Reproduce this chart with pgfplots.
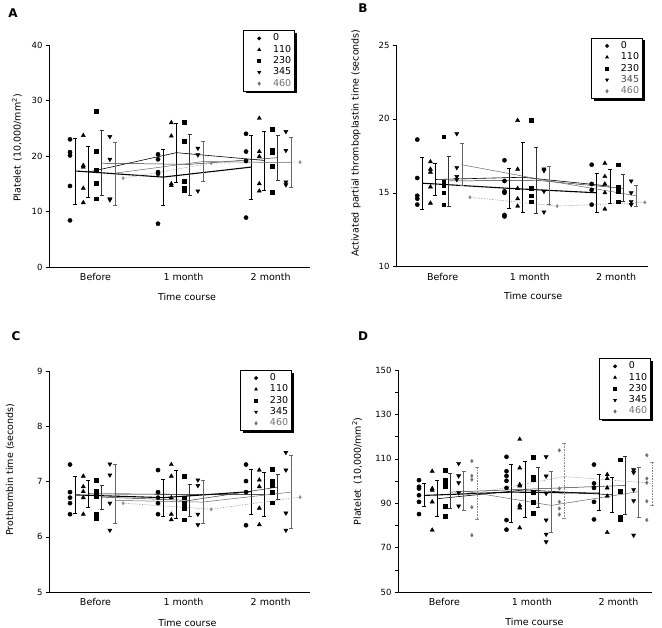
\documentclass[border=0pt]{standalone}
\usepackage{fontspec}
\setmainfont{DejaVu Sans}
\usepackage{pgfplots}
\pgfplotsset{compat=1.18}
\usetikzlibrary{shadows}
\pgfkeys{/pgfplots/table/errt/.style={x=x,y=y,y error plus expr=\thisrow{hi}-\thisrow{y},y error minus expr=\thisrow{y}-\thisrow{lo}}}
\pgfplotsset{
  panel/.style={
    scale only axis, axis lines=left, axis line style={-, line width=0.6pt},
    enlargelimits=false, clip=false,
    xtick={0.29,1.29,2.28}, xticklabels={Before,1 month,2 month},
    xtick style={draw=none}, tick align=outside,
    ytick style={line width=0.5pt, black}, major tick length=3bp, minor tick length=3bp,
    yticklabel style={font=\fontsize{8.5bp}{10bp}\selectfont},
    xticklabel style={font=\fontsize{9.5bp}{11bp}\selectfont},
    /pgf/number format/assume math mode=true,
    label style={font=\fontsize{9.5bp}{11bp}\selectfont},
    xlabel={Time course},
    xlabel style={anchor=center}, ylabel style={anchor=center},
    legend cell align=left,
    legend style={font=\fontsize{9.5bp}{11bp}\selectfont, draw=black, line width=0.8pt,
      anchor=north east, inner xsep=1bp, inner ysep=2bp, row sep=0pt,
      nodes={text height=7bp, text depth=2bp, inner ysep=1.15bp, inner xsep=2.5bp},
      drop shadow={shadow xshift=2.2bp, shadow yshift=-2.2bp, fill=black, opacity=1}},
  },
  lgm/.style={legend image code/.code={\path (0bp,0bp); \path (25bp,0bp);
      \draw[##1, mark size=1.5bp] plot coordinates {(14bp,0bp)};}},
  s0/.style={black, mark=*, mark size=2.1bp, lgm},
  s1/.style={black, mark=triangle*, mark size=2.4bp, lgm},
  s2/.style={black, mark=square*, mark size=1.9bp, lgm},
  s3/.style={black, mark=triangle*, mark size=2.4bp, mark options={rotate=180}, lgm},
  s4/.style={black!55, mark=diamond*, mark size=1.8bp, lgm},
  eb/.style={/pgfplots/error bars/y dir=both, /pgfplots/error bars/y explicit,
    /pgfplots/error bars/error mark options={rotate=90, mark size=2bp}},
  l0/.style={black, line width=1.1pt, mark=none, forget plot, eb},
  l1/.style={black, line width=0.6pt, mark=none, forget plot, eb},
  l2/.style={black!80, line width=0.5pt, mark=none, forget plot, eb},
  l3/.style={black!60, line width=0.5pt, mark=none, forget plot, eb},
  l4/.style={black!45, line width=0.6pt, densely dotted, mark=none, forget plot, eb},
  l4m/.style={black!45, line width=0.6pt, densely dotted, forget plot, mark=diamond*, mark size=1.5bp, mark options={solid}},
}
\begin{document}
\begin{tikzpicture}
\path[use as bounding box] (0,0) rectangle (662bp,628bp);
\node[font=\bfseries\fontsize{12bp}{12bp}\selectfont] at (13bp,615bp) {A};
\node[font=\bfseries\fontsize{12bp}{12bp}\selectfont] at (363bp,620bp) {B};
\node[font=\bfseries\fontsize{12bp}{12bp}\selectfont] at (16bp,292bp) {C};
\node[font=\bfseries\fontsize{12bp}{12bp}\selectfont] at (363bp,292bp) {D};

% ---------------- A ----------------
\begin{axis}[panel, at={(49bp,361bp)}, anchor=south west, width=261bp, height=222bp,
  xmin=-0.2386, xmax=2.727, ymin=0, ymax=40, ytick={0,10,...,40},
  ylabel={Platelet\enspace(10,000/mm\textsuperscript{2})},
  ylabel style={at={(axis description cs:-0.123,0.536)}},
  xlabel style={at={(axis description cs:0.529,-0.135)}},
  legend style={at={(0.943,1.066)}}]
\addplot[only marks, s0] coordinates {(0,23.0)(0,20.7)(0,20.1)(0,14.6)(0,8.4)(1,20.3)(1,19.4)(1,17.1)(1,16.8)(1,7.8)(2,24.0)(2,20.8)(2,19.1)(2,8.9)};
\addplot[only marks, s1] coordinates {(0.151,23.7)(0.151,18.3)(0.151,18.0)(0.151,14.2)(0.151,11.6)(1.151,26.0)(1.151,23.6)(1.151,15.0)(1.151,14.7)(2.151,26.8)(2.151,20.8)(2.151,19.9)(2.151,15.0)(2.151,13.7)};
\addplot[only marks, s2] coordinates {(0.302,28.1)(0.302,20.9)(0.302,17.4)(0.302,15.1)(0.302,12.3)(1.302,26.1)(1.302,22.6)(1.302,15.5)(1.302,14.2)(1.302,13.9)(2.302,24.9)(2.302,21.1)(2.302,20.6)(2.302,18.1)(2.302,13.5)};
\addplot[only marks, s3] coordinates {(0.453,23.5)(0.453,19.4)(0.453,12.3)(0.453,12.1)(1.453,21.4)(1.453,20.2)(1.453,13.7)(2.453,24.4)(2.453,21.0)(2.453,15.3)(2.453,14.8)};
\addlegendimage{only marks, s4}
\addplot[l0] table[errt] {
x y lo hi
0.057 17.3 11.3 23.2
1.057 16.2 11.2 21.2
2.057 18.0 12.2 23.7
};
\addplot[l1] table[errt] {
x y lo hi
0.208 17.1 12.5 21.7
1.208 20.6 15.3 25.9
2.208 19.2 13.9 24.4
};
\addplot[l2] table[errt] {
x y lo hi
0.359 18.7 13.0 24.7
1.359 18.5 13.0 23.9
2.359 19.7 15.6 23.8
};
\addplot[l3] table[errt] {
x y lo hi
0.510 16.9 11.2 22.5
1.510 19.0 15.4 22.6
2.510 18.8 14.3 23.4
};
\addplot[l4m] coordinates {(0.604,16.0)(1.604,18.7)(2.614,18.9)};
\legend{0,110,230,345,{\color{black!55}460}}
\end{axis}

% ---------------- B ----------------
\begin{axis}[panel, at={(396bp,361.3bp)}, anchor=south west, width=252bp, height=221.7bp,
  xmin=-0.244, xmax=2.646, ymin=10, ymax=25, ytick={10,15,20,25},
  ylabel={Activated partial thromboplastin time (seconds)},
  ylabel style={at={(axis description cs:-0.159,0.557)}},
  xlabel style={at={(axis description cs:0.544,-0.132)}},
  legend style={at={(0.98,1.032)}}]
\addplot[only marks, s0] coordinates {(0,18.6)(0,16.0)(0,14.8)(0,14.6)(0,14.2)(1,17.2)(1,15.8)(1,15.1)(1,15.0)(1,13.5)(1,13.4)(2,16.9)(2,15.6)(2,15.2)(2,14.2)};
\addplot[only marks, s1] coordinates {(0.151,17.1)(0.151,16.6)(0.151,16.4)(0.151,15.4)(0.151,14.3)(1.151,19.9)(1.151,16.6)(1.151,15.3)(1.151,14.6)(1.151,14.1)(2.151,17.0)(2.151,16.1)(2.151,15.6)(2.151,15.0)(2.151,13.9)};
\addplot[only marks, s2] coordinates {(0.302,18.8)(0.302,15.7)(0.302,15.5)(0.302,15.0)(0.302,14.2)(1.302,19.9)(1.302,15.3)(1.302,14.8)(1.302,14.4)(2.302,16.9)(2.302,15.4)(2.302,15.3)(2.302,15.1)(2.302,14.4)};
\addplot[only marks, s3] coordinates {(0.453,19.0)(0.453,16.7)(0.453,16.1)(0.453,15.9)(1.453,16.6)(1.453,16.5)(1.453,15.1)(1.453,13.7)(2.453,15.8)(2.453,15.0)(2.453,14.4)(2.453,14.2)};
\addlegendimage{only marks, s4}
\addplot[l0] table[errt] {
x y lo hi
0.057 15.65 13.9 17.4
1.057 15.3 13.95 16.65
2.057 15.0 13.7 16.3
};
\addplot[l1] table[errt] {
x y lo hi
0.208 15.9 14.85 17.0
1.208 16.05 13.7 18.4
2.208 15.45 14.3 16.6
};
\addplot[l2] table[errt] {
x y lo hi
0.359 15.8 14.1 17.5
1.359 15.85 13.6 18.1
2.359 15.3 14.4 16.25
};
\addplot[l3] table[errt] {
x y lo hi
0.510 16.9 15.5 18.35
1.510 15.8 14.2 16.8
2.510 14.8 14.1 15.5
};
\addplot[l4m] coordinates {(0.604,14.7)(1.604,14.1)(2.61,14.35)};
\legend{0,110,230,{\color{black!70}345},{\color{black!55}460}}
\end{axis}

% ---------------- C ----------------
\begin{axis}[panel, at={(49bp,36bp)}, anchor=south west, width=261bp, height=220.7bp,
  xmin=-0.2386, xmax=2.727, ymin=5, ymax=9, ytick={5,6,7,8,9},
  ylabel={Prothrombin time (seconds)},
  ylabel style={at={(axis description cs:-0.149,0.554)}},
  xlabel style={at={(axis description cs:0.53,-0.14)}},
  legend style={at={(0.931,1.006)}}]
\addplot[only marks, s0] coordinates {(0,7.31)(0,6.81)(0,6.71)(0,6.61)(0,6.41)(1,7.21)(1,6.81)(1,6.71)(1,6.61)(1,6.41)(2,7.31)(2,7.01)(2,6.81)(2,6.21)};
\addplot[only marks, s1] coordinates {(0.151,7.1)(0.151,6.91)(0.151,6.82)(0.151,6.71)(0.151,6.41)(1.151,7.31)(1.151,7.1)(1.151,6.71)(1.151,6.41)(1.151,6.31)(2.151,7.21)(2.151,7.03)(2.151,6.91)(2.151,6.52)(2.151,6.22)};
\addplot[only marks, s2] coordinates {(0.302,7.03)(0.302,6.82)(0.302,6.73)(0.302,6.41)(0.302,6.33)(1.302,7.1)(1.302,6.71)(1.302,6.61)(1.302,6.52)(1.302,6.31)(2.302,7.22)(2.302,7.01)(2.302,6.93)(2.302,6.81)(2.302,6.62)};
\addplot[only marks, s3] coordinates {(0.453,7.32)(0.453,7.12)(0.453,6.61)(0.453,6.12)(1.453,7.03)(1.453,6.93)(1.453,6.41)(1.453,6.22)(2.453,7.53)(2.453,7.21)(2.453,6.43)(2.453,6.12)};
\addlegendimage{only marks, s4}
\addplot[l0] table[errt] {
x y lo hi
0.057 6.76 6.42 7.09
1.057 6.71 6.37 7.05
2.057 6.82 6.41 7.22
};
\addplot[l1] table[errt] {
x y lo hi
0.208 6.78 6.53 7.03
1.208 6.77 6.33 7.21
2.208 6.77 6.37 7.17
};
\addplot[l2] table[errt] {
x y lo hi
0.359 6.72 6.50 6.93
1.359 6.66 6.38 6.95
2.359 6.90 6.68 7.14
};
\addplot[l3] table[errt] {
x y lo hi
0.510 6.66 6.24 7.32
1.510 6.63 6.24 7.03
2.510 6.81 6.15 7.48
};
\addplot[l4m] coordinates {(0.604,6.61)(1.604,6.50)(2.614,6.72)};
\legend{0,110,230,345,{\color{black!55}460}}
\end{axis}

% ---------------- D ----------------
\begin{axis}[panel, at={(398bp,36bp)}, anchor=south west, width=254bp, height=222bp,
  xmin=-0.24, xmax=2.663, ymin=50, ymax=150, ytick={50,70,...,150}, minor ytick={60,80,...,140},
  ylabel={Platelet\enspace(10,000/mm\textsuperscript{2})},
  ylabel style={at={(axis description cs:-0.161,0.543)}},
  xlabel style={at={(axis description cs:0.537,-0.135)}},
  legend style={at={(0.996,1.053)}}]
\addplot[only marks, s0] coordinates {(0,100.4)(0,97.4)(0,96.6)(0,93.6)(0,90.6)(0,85.1)(1,110.9)(1,104.4)(1,102.3)(1,100.1)(1,96.9)(1,82.4)(1,78.1)(2,107.4)(2,98.9)(2,96.9)(2,90.6)(2,82.7)};
\addplot[only marks, s1] coordinates {(0.151,104.4)(0.151,96.6)(0.151,95.9)(0.151,90.6)(0.151,77.9)(1.151,118.8)(1.151,105.9)(1.151,98.4)(1.151,97.8)(1.151,89.1)(1.151,87.9)(1.151,78.9)(2.151,102.9)(2.151,101.1)(2.151,96.9)(2.151,93.2)(2.151,76.8)};
\addplot[only marks, s2] coordinates {(0.302,104.9)(0.302,100.4)(0.302,98.9)(0.302,97.4)(0.302,88.7)(0.302,84.2)(1.302,110.6)(1.302,101.9)(1.302,100.8)(1.302,95.1)(1.302,90.6)(1.302,85.4)(2.302,109.6)(2.302,95.4)(2.302,83.9)(2.302,82.8)};
\addplot[only marks, s3] coordinates {(0.453,107.9)(0.453,102.3)(0.453,99.2)(0.453,94.7)(0.453,88.7)(1.453,110.9)(1.453,102.2)(1.453,94.4)(1.453,82.4)(1.453,76.0)(1.453,72.6)(2.453,105.0)(2.453,103.8)(2.453,96.1)(2.453,91.1)(2.453,75.6)};
\addplot[only marks, s4] coordinates {(0.604,109.0)(0.604,102.3)(0.604,100.6)(0.604,88.2)(0.604,75.6)(1.604,113.8)(1.604,96.6)(1.604,90.6)(1.604,87.6)(1.604,84.9)(2.604,111.6)(2.604,101.1)(2.604,99.2)(2.604,90.9)(2.604,82.4)};
\addplot[l0] table[errt] {
x y lo hi
0.057 93.5 88.7 99.2
1.057 95.0 81.3 107.4
2.057 94.5 86.9 102.9
};
\addplot[l1] table[errt] {
x y lo hi
0.208 92.0 84.3 100.4
1.208 96.0 83.9 109.0
2.208 93.8 85.8 101.8
};
\addplot[l2] table[errt] {
x y lo hi
0.359 95.0 87.6 103.4
1.359 96.5 88.1 106.0
2.359 98.0 84.9 111.3
};
\addplot[l3] table[errt] {
x y lo hi
0.510 95.5 87.0 104.3
1.510 89.0 77.1 104.4
2.510 95.2 83.9 106.4
};
\addplot[l4] table[errt] {
x y lo hi
0.661 94.6 82.8 106.4
1.661 102.0 83.3 117.0
2.661 99.0 89.0 108.5
};
\legend{0,110,230,345,{\color{black!55}460}}
\end{axis}
\end{tikzpicture}
\end{document}
